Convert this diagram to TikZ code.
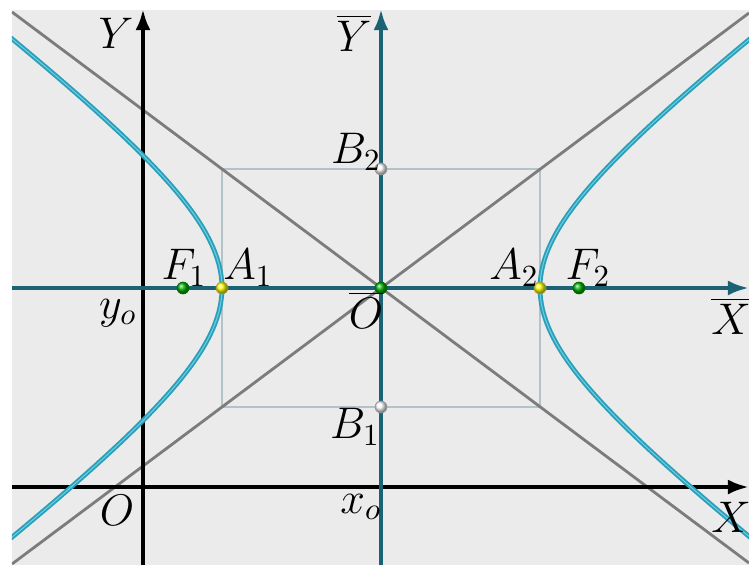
\documentclass[tikz,border=0pt]{standalone}
\usetikzlibrary{arrows.meta}

\definecolor{bgray}{HTML}{EBEBEB}
\definecolor{axteal}{HTML}{1B6275}
\definecolor{hypcyan}{HTML}{2A9FB9}
\definecolor{hyplight}{HTML}{6CCDE0}
\definecolor{asgray}{HTML}{7C7C7C}
\definecolor{boxgray}{HTML}{B4C3C8}

\tikzset{
  axis/.style={line width=2.3pt, -{Latex[length=12pt,width=8.5pt]}},
  pt/.style={circle, inner sep=0pt, minimum size=6.8pt, draw=#1!60!black, line width=0.4pt, ball color=#1},
  lbl/.style={inner sep=0pt, scale=1.75, transform shape}
}

\begin{document}
\begin{tikzpicture}[x=0.02cm, y=0.02cm, font=\Large]
  % frame
  \useasboundingbox (-381,-277) rectangle (368,288);
  \fill[white] (-381,-277) rectangle (368,288);
  \fill[bgray] (-369,-277) rectangle (368,278);
  \begin{scope}
    \clip (-369,-277) rectangle (368,278);
    % box and asymptotes
    \draw[boxgray, line width=1.1pt] (-159,-119) rectangle (159,119);
    \draw[asgray, line width=1.6pt] (-369,276) -- (368,-275);
    \draw[asgray, line width=1.6pt] (-369,-276) -- (368,275);
  \end{scope}
  % old axes
  \draw[axis, black] (-369,-199) -- (368,-199);
  \draw[axis, black] (-238,-277) -- (-238,279);
  % new axes
  \draw[axis, axteal] (-369,0) -- (368,0);
  \draw[axis, axteal] (0,-277) -- (0,279);
  % hyperbola branches
  \begin{scope}
    \clip (-369,-277) rectangle (368,278);
    \foreach \s in {1,-1} {
      \draw[hypcyan, line width=2.7pt]
        plot[domain=-1.49:1.49, samples=80, variable=\t] ({\s*159*cosh(\t)},{119*sinh(\t)});
      \draw[hyplight, line width=0.6pt]
        plot[domain=-1.49:1.49, samples=80, variable=\t] ({\s*159*cosh(\t)},{119*sinh(\t)});
    }
  \end{scope}
  % points
  \node[pt=green!70!black] (F1) at (-198,0) {};
  \node[pt=green!70!black] (F2) at (198,0) {};
  \node[pt=yellow] (A1) at (-159,0) {};
  \node[pt=yellow] (A2) at (159,0) {};
  \node[pt=white] (B1) at (0,-119) {};
  \node[pt=white] (B2) at (0,119) {};
  \node[pt=green!70!black] (Ob) at (0,0) {};
  % labels
  \node[lbl] (lY)  at (-265,255) {$Y$};
  \node[lbl] (lYb) at (-27,255) {$\overline{Y}$};
  \node[lbl] (lB2) at (-25,136) {$B_2$};
  \node[lbl] (lF1) at (-197,20) {$F_1$};
  \node[lbl] (lA1) at (-133,20) {$A_1$};
  \node[lbl] (lA2) at (133,20) {$A_2$};
  \node[lbl] (lF2) at (207,20) {$F_2$};
  \node[lbl] (lyo) at (-263,-25) {$y_o$};
  \node[lbl] (lOb) at (-15,-22) {$\overline{O}$};
  \node[lbl] (lXb) at (350,-28) {$\overline{X}$};
  \node[lbl] (lB1) at (-26,-139) {$B_1$};
  \node[lbl] (lO)  at (-264,-222) {$O$};
  \node[lbl] (lxo) at (-20,-219) {$x_o$};
  \node[lbl] (lX)  at (350,-229) {$X$};
\end{tikzpicture}
\end{document}
